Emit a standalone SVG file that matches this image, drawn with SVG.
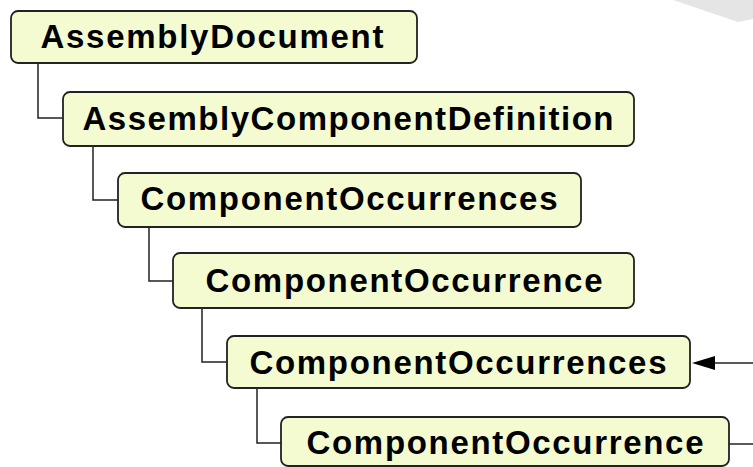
<svg xmlns="http://www.w3.org/2000/svg" width="753" height="467" viewBox="0 0 753 467">
<style>
.box{fill:#f4fbd0;stroke:#222;stroke-width:1.8}
.lbl{font-family:"Liberation Sans",Arial,sans-serif;font-weight:bold;font-size:33px;fill:#000;text-anchor:middle}
.con{fill:none;stroke:#222;stroke-width:1.5}
</style>
<polygon points="673,0 738,22 753,19 753,0" fill="#e5e5e5"/>
<g id="connectors">
<polyline class="con" points="38,63 38,118 63,118"/>
<polyline class="con" points="93,146 93,200 118,200"/>
<polyline class="con" points="149,227 149,281 173,281"/>
<polyline class="con" points="202,308 202,362 227,362"/>
<polyline class="con" points="257,388 257,443 281,443"/>
<line class="con" x1="753" y1="363" x2="715" y2="363"/>
<path d="M692,363 L715,356 L715,370 Z" fill="#000"/>
<line class="con" x1="729" y1="444" x2="753" y2="444"/>
</g>
<g id="n1"><rect class="box" x="11" y="11" width="406" height="52" rx="7"/><text class="lbl" x="212" y="48" textLength="343" lengthAdjust="spacing">AssemblyDocument</text></g>
<g id="n2"><rect class="box" x="63" y="92" width="571" height="54" rx="7"/><text class="lbl" x="348" y="130" textLength="531" lengthAdjust="spacing">AssemblyComponentDefinition</text></g>
<g id="n3"><rect class="box" x="118" y="173" width="463" height="54" rx="7"/><text class="lbl" x="349" y="210" textLength="417" lengthAdjust="spacing">ComponentOccurrences</text></g>
<g id="n4"><rect class="box" x="173" y="253" width="461" height="55" rx="7"/><text class="lbl" x="404" y="292" textLength="397" lengthAdjust="spacing">ComponentOccurrence</text></g>
<g id="n5"><rect class="box" x="227" y="336" width="463" height="52" rx="7"/><text class="lbl" x="458" y="374" textLength="417" lengthAdjust="spacing">ComponentOccurrences</text></g>
<g id="n6"><rect class="box" x="281" y="417" width="448" height="49" rx="7"/><text class="lbl" x="505" y="454" textLength="397" lengthAdjust="spacing">ComponentOccurrence</text></g>
</svg>
